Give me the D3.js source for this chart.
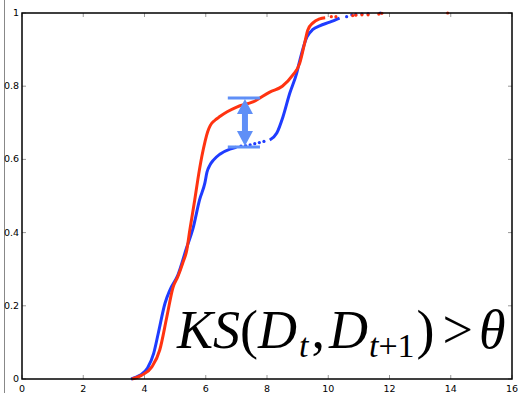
<!DOCTYPE html>
<html><head><meta charset="utf-8">
<script src="https://cdn.jsdelivr.net/npm/d3@7"></script>
<style>html,body{margin:0;padding:0;background:#fff;}svg{display:block;}</style>
</head><body>
<svg id="c" width="519" height="397"></svg>
<script>
const xTicks = [0,2,4,6,8,10,12,14,16];
const yTicks = [0,0.2,0.4,0.6,0.8,1];
const yTickLabels = ["0","0.2","0.4","0.6","0.8","1"];

const redLine = [[3.59,0],[3.9,0.01],[4.24,0.033],[4.5,0.08],[4.73,0.17],[4.93,0.25],[5.09,0.28],[5.25,0.317],[5.38,0.352],[5.48,0.407],[5.64,0.489],[5.74,0.544],[5.87,0.607],[5.98,0.65],[6.06,0.675],[6.15,0.693],[6.3,0.707],[6.46,0.717],[6.7,0.73],[7.01,0.743],[7.54,0.757],[8.09,0.784],[8.5,0.80],[8.84,0.83],[9.07,0.863],[9.23,0.918],[9.33,0.953],[9.5,0.973],[9.72,0.984],[9.9,0.987]];
const redDots = [[10.1,0.99],[10.25,0.99],[10.8,0.993],[10.9,0.994],[11.1,0.995],[11.3,0.995],[11.65,0.997],[11.75,0.999],[13.9,1.0]];

const blueLine1 = [[3.56,0],[3.85,0.01],[4.1,0.03],[4.3,0.07],[4.45,0.125],[4.67,0.207],[4.83,0.243],[5.09,0.284],[5.38,0.36],[5.58,0.41],[5.8,0.49],[5.97,0.535],[6.04,0.565],[6.14,0.585],[6.25,0.598],[6.46,0.614],[6.79,0.628],[7.0,0.633]];
const blueDots = [[7.15,0.636],[7.3,0.638],[7.45,0.64],[7.6,0.643],[7.75,0.646],[7.9,0.649],[10.6,0.99],[10.77,0.995],[10.9,0.996],[11.1,0.997],[11.3,0.998],[11.7,1.0]];
const blueLine2 = [[8.09,0.653],[8.32,0.672],[8.52,0.716],[8.74,0.78],[8.97,0.836],[9.07,0.87],[9.3,0.934],[9.5,0.955],[9.72,0.965],[10.05,0.975],[10.37,0.986]];

const arrowX = 7.28, arrowLow = 0.634, arrowHigh = 0.768, barFrom = 6.72, barTo = 7.77;

const svg = d3.select("#c");
const x = d3.scaleLinear().domain([0,16]).range([22,512]);
const y = d3.scaleLinear().domain([0,1]).range([379,13]);

// figure border line
svg.append("line").attr("x1",4.5).attr("x2",4.5).attr("y1",0).attr("y2",393).attr("stroke","#888").attr("stroke-width",1);

const red = "#ff3311", blue = "#1f3cff";
const line = d3.line().x(d=>x(d[0])).y(d=>y(d[1])).curve(d3.curveMonotoneX);
function drawLine(data,col){
  svg.append("path").attr("d",line(data)).attr("fill","none").attr("stroke",col).attr("stroke-width",3).attr("stroke-linejoin","round");
}
function drawDots(data,col){
  svg.selectAll(null).data(data).enter().append("circle").attr("cx",d=>x(d[0])).attr("cy",d=>y(d[1])).attr("r",1.6).attr("fill",col);
}
drawLine(blueLine1,blue); drawLine(blueLine2,blue); drawDots(blueDots,blue);
drawLine(redLine,red); drawDots(redDots,red);

// arrow
const ac = "#5f8ff7";
[arrowLow,arrowHigh].forEach(v=>{
  svg.append("line").attr("x1",x(barFrom)).attr("x2",x(barTo)).attr("y1",y(v)).attr("y2",y(v)).attr("stroke",ac).attr("stroke-width",3);
});
const ax = x(arrowX), ay1 = y(arrowHigh), ay2 = y(arrowLow);
svg.append("line").attr("x1",ax).attr("x2",ax).attr("y1",ay1+12).attr("y2",ay2-12).attr("stroke",ac).attr("stroke-width",6);
svg.append("path").attr("d",`M${ax},${ay1+1}L${ax-8},${ay1+16}L${ax+8},${ay1+16}Z`).attr("fill",ac);
svg.append("path").attr("d",`M${ax},${ay2-1}L${ax-8},${ay2-16}L${ax+8},${ay2-16}Z`).attr("fill",ac);

// ticks (inward)
const tg = svg.append("g").attr("stroke","#999").attr("stroke-width",1);
xTicks.forEach(t=>{
  tg.append("line").attr("x1",x(t)).attr("x2",x(t)).attr("y1",379).attr("y2",375);
  tg.append("line").attr("x1",x(t)).attr("x2",x(t)).attr("y1",13).attr("y2",17);
});
yTicks.forEach(t=>{
  tg.append("line").attr("x1",22).attr("x2",26).attr("y1",y(t)).attr("y2",y(t));
  tg.append("line").attr("x1",512).attr("x2",508).attr("y1",y(t)).attr("y2",y(t));
});

// frame
svg.append("rect").attr("x",22).attr("y",13).attr("width",490).attr("height",366).attr("fill","none").attr("stroke","#000").attr("stroke-width",1.5);

// tick labels
const lf = "DejaVu Sans, sans-serif";
xTicks.forEach(t=>{
  svg.append("text").attr("x",x(t)).attr("y",392).attr("text-anchor","middle").attr("font-family",lf).attr("font-size",9.5).attr("fill","#000").text(t);
});
yTicks.forEach((t,i)=>{
  svg.append("text").attr("x",19).attr("y",y(t)+3).attr("text-anchor","end").attr("font-family",lf).attr("font-size",9.5).attr("fill","#000").text(yTickLabels[i]);
});

// formula
const f = svg.append("text").attr("x",177).attr("y",348).attr("font-family","Liberation Serif, Times New Roman, serif").attr("font-size",54).attr("fill","#000");
f.append("tspan").attr("font-style","italic").text("KS");
f.append("tspan").text("(");
f.append("tspan").attr("font-style","italic").text("D");
f.append("tspan").attr("font-style","italic").attr("font-size",34).attr("dy",9).attr("dx",2).text("t");
f.append("tspan").attr("dy",-9).attr("dx",3).text(",");
f.append("tspan").attr("font-style","italic").attr("dx",4).text("D");
f.append("tspan").attr("font-style","italic").attr("font-size",34).attr("dy",9).attr("dx",1).text("t");
f.append("tspan").attr("font-size",34).text("+1");
f.append("tspan").attr("dy",-9).attr("dx",2).text(")");
f.append("tspan").attr("dx",8).text(">");
f.append("tspan").attr("font-style","italic").attr("dx",6).text("θ");
</script>
</body></html>
